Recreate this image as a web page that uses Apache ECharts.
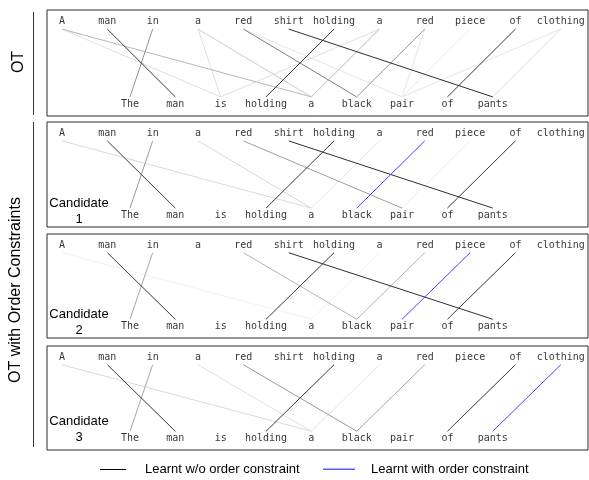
<!DOCTYPE html>
<html>
<head>
<meta charset="utf-8">
<script src="https://cdn.jsdelivr.net/npm/echarts@6/dist/echarts.min.js"></script>
<style>
  html, body { margin: 0; padding: 0; background: #fff; }
  #chart { width: 589px; height: 480px; }
</style>
</head>
<body>
<div id="chart"></div>
<script>
// Source sentence (top row) and target sentence (bottom row)
const topWords = ['A', 'man', 'in', 'a', 'red', 'shirt', 'holding', 'a', 'red', 'piece', 'of', 'clothing'];
const bottomWords = ['The', 'man', 'is', 'holding', 'a', 'black', 'pair', 'of', 'pants'];

// Alignments: [top word index, bottom word index, transport weight 0..1]
const otLinks = [
  [0, 4, 0.28], [0, 2, 0.12], [1, 1, 0.78], [2, 0, 0.42], [3, 2, 0.12], [3, 4, 0.2],
  [4, 5, 0.5], [4, 6, 0.1], [5, 8, 0.82], [6, 3, 0.78], [7, 4, 0.28], [7, 2, 0.12],
  [8, 5, 0.42], [8, 6, 0.1], [9, 6, 0.08], [10, 7, 0.78], [11, 6, 0.1], [11, 8, 0.12]
];
const cand1Links = [
  [0, 4, 0.15], [1, 1, 0.78], [2, 0, 0.4], [3, 4, 0.15], [4, 6, 0.38], [5, 8, 0.82],
  [6, 3, 0.78], [7, 4, 0.1], [9, 6, 0.07], [10, 7, 0.78]
];
const cand2Links = [
  [0, 4, 0.05], [1, 1, 0.78], [2, 0, 0.35], [4, 5, 0.3], [5, 8, 0.82],
  [6, 3, 0.78], [7, 4, 0.05], [8, 5, 0.3], [10, 7, 0.78]
];
const cand3Links = [
  [0, 4, 0.15], [1, 1, 0.78], [2, 0, 0.35], [3, 4, 0.12], [4, 5, 0.4],
  [6, 3, 0.78], [7, 4, 0.1], [8, 5, 0.35], [10, 7, 0.78]
];
// Alignments added by the order constraint
const cand1Ordered = [[8, 5]];
const cand2Ordered = [[9, 6]];
const cand3Ordered = [[11, 8]];

const candidateNames = ['Candidate\n1', 'Candidate\n2', 'Candidate\n3'];
const legendNames = ['Learnt w/o order constraint', 'Learnt with order constraint'];
const groupNames = ['OT', 'OT with Order Constraints'];

// ---- layout ----
const panelLinks = [otLinks, cand1Links, cand2Links, cand3Links];
const panelOrdered = [[], cand1Ordered, cand2Ordered, cand3Ordered];
const panelBoxes = [
  { top: 10, height: 106 },
  { top: 122, height: 105 },
  { top: 234, height: 104 },
  { top: 346, height: 104 }
];
const TOP_TEXT_Y = 89, TOP_LINE_Y = 82, BOT_LINE_Y = 18, BOT_TEXT_Y = 11;
const BOTTOM_SHIFT = (topWords.length - bottomWords.length) / 2;
const BLUE = '#4343ff';
const LEGEND_BLUE = '#5c5cff';
const MONO = 'DejaVu Sans Mono';
const SANS = 'Liberation Sans, Arial, Helvetica, sans-serif';

function grayOf(w) {
  const v = Math.round(255 * (1 - w));
  return 'rgb(' + v + ',' + v + ',' + v + ')';
}

const grids = [], xAxes = [], yAxes = [], series = [];
panelBoxes.forEach((box, k) => {
  grids.push({
    left: 47, right: 1, top: box.top, height: box.height,
    show: true, borderColor: '#2a2a2a', borderWidth: 1, backgroundColor: 'transparent'
  });
  xAxes.push({ gridIndex: k, type: 'value', min: -0.33, max: 11.6, show: false });
  yAxes.push({ gridIndex: k, type: 'value', min: 0, max: 100, show: false });

  const sorted = panelLinks[k].slice().sort((a, b) => a[2] - b[2]);
  series.push({
    type: 'lines', coordinateSystem: 'cartesian2d', xAxisIndex: k, yAxisIndex: k,
    silent: true, z: 2,
    lineStyle: { width: 1, opacity: 1 },
    data: sorted.map(([t, b, w]) => ({
      coords: [[t, TOP_LINE_Y], [b + BOTTOM_SHIFT, BOT_LINE_Y]],
      lineStyle: { color: grayOf(w) }
    }))
  });
  series.push({
    type: 'lines', coordinateSystem: 'cartesian2d', xAxisIndex: k, yAxisIndex: k,
    silent: true, z: 3,
    lineStyle: { width: 1, opacity: 1, color: BLUE },
    data: panelOrdered[k].map(([t, b]) => ({
      coords: [[t, TOP_LINE_Y], [b + BOTTOM_SHIFT, BOT_LINE_Y]]
    }))
  });
  const wordLabel = {
    show: true, position: 'inside', formatter: '{b}',
    color: '#000', fontFamily: MONO, fontSize: 10
  };
  series.push({
    type: 'scatter', xAxisIndex: k, yAxisIndex: k, silent: true, z: 4,
    symbolSize: 1, itemStyle: { color: 'rgba(0,0,0,0)' }, label: wordLabel,
    data: topWords.map((w, i) => ({ name: w, value: [i, TOP_TEXT_Y] }))
  });
  series.push({
    type: 'scatter', xAxisIndex: k, yAxisIndex: k, silent: true, z: 4,
    symbolSize: 1, itemStyle: { color: 'rgba(0,0,0,0)' }, label: wordLabel,
    data: bottomWords.map((w, j) => ({ name: w, value: [j + BOTTOM_SHIFT, BOT_TEXT_Y] }))
  });
});

const candidateY = [211, 322, 429];
const graphic = [
  // group brackets and titles
  { type: 'line', shape: { x1: 33.5, y1: 12, x2: 33.5, y2: 115 }, style: { stroke: '#333', lineWidth: 1 } },
  { type: 'line', shape: { x1: 33.5, y1: 122, x2: 33.5, y2: 447 }, style: { stroke: '#333', lineWidth: 1 } },
  { type: 'text', x: 19, y: 62, rotation: Math.PI / 2,
    style: { text: groupNames[0], fill: '#000', font: '16px ' + SANS, textAlign: 'center', textVerticalAlign: 'middle' } },
  { type: 'text', x: 16, y: 290, rotation: Math.PI / 2,
    style: { text: groupNames[1], fill: '#000', font: '16px ' + SANS, textAlign: 'center', textVerticalAlign: 'middle' } },
  // legend
  { type: 'rect', shape: { x: 100, y: 469, width: 26, height: 1 }, style: { fill: '#000' } },
  { type: 'text', x: 145, y: 469,
    style: { text: legendNames[0], fill: '#000', font: '13px ' + SANS, textAlign: 'left', textVerticalAlign: 'middle' } },
  { type: 'rect', shape: { x: 323, y: 468.5, width: 32, height: 1.5 }, style: { fill: LEGEND_BLUE } },
  { type: 'text', x: 371, y: 469,
    style: { text: legendNames[1], fill: '#000', font: '13px ' + SANS, textAlign: 'left', textVerticalAlign: 'middle' } }
];
candidateNames.forEach((name, i) => {
  graphic.push({
    type: 'text', x: 79, y: candidateY[i], z: 10,
    style: { text: name, fill: '#000', font: '13px ' + SANS, lineHeight: 16,
             textAlign: 'center', textVerticalAlign: 'middle' }
  });
});

const chart = echarts.init(document.getElementById('chart'), null, { renderer: 'canvas' });
chart.setOption({
  animation: false,
  backgroundColor: '#fff',
  grid: grids,
  xAxis: xAxes,
  yAxis: yAxes,
  series: series,
  graphic: graphic
});
</script>
</body>
</html>
